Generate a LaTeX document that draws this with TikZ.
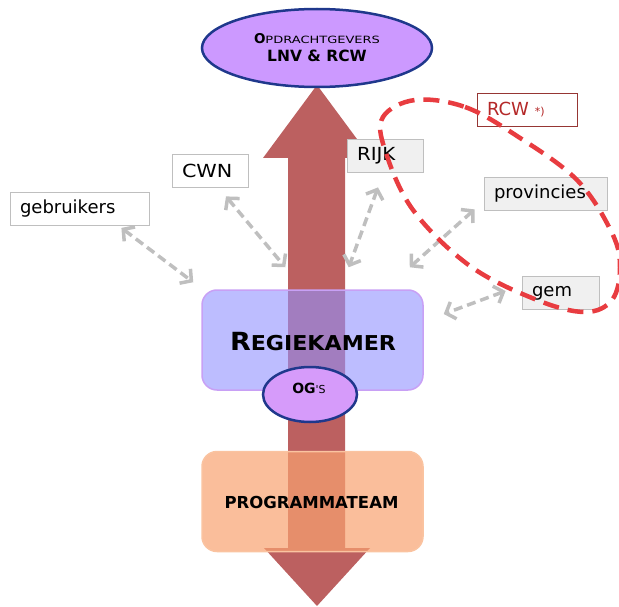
\documentclass[tikz,border=0pt]{standalone}
\usepackage{fontspec}
\setmainfont{DejaVu Sans}
\usetikzlibrary{arrows.meta,shapes.geometric,calc}
\definecolor{arrowred}{RGB}{188,96,96}
\definecolor{lav}{RGB}{204,153,255}
\definecolor{ogfill}{RGB}{214,155,250}
\definecolor{navy}{RGB}{31,56,140}
\definecolor{regfill}{RGB}{145,145,255}
\definecolor{regborder}{RGB}{200,160,245}
\definecolor{progfill}{RGB}{248,162,112}
\definecolor{progborder}{RGB}{250,195,160}
\definecolor{boxgray}{RGB}{191,191,191}
\definecolor{lightfill}{RGB}{240,240,240}
\definecolor{rcwred}{RGB}{180,40,40}
\definecolor{rcwborder}{RGB}{150,54,52}
\definecolor{loopred}{RGB}{232,60,64}
\begin{document}
\begin{tikzpicture}[x=1pt,y=-1pt,
  labelbox/.style={draw=boxgray,line width=0.8pt,fill=white,inner xsep=10pt,inner ysep=0pt,
    minimum height=33pt,align=left,font=\fontsize{18}{20}\selectfont},
  graybox/.style={labelbox,fill=lightfill},
  teambox/.style={rounded corners=15pt,line width=1.5pt,minimum width=221pt,minimum height=100pt,text opacity=1},
  ovalnode/.style={ellipse,draw=navy,line width=2.5pt,inner sep=0pt},
  link/.style={draw=boxgray,line width=3.5pt,dash pattern=on 9pt off 5pt,
    {Straight Barb[length=8pt,width=18pt,line width=3.5pt]}-{Straight Barb[length=8pt,width=18pt,line width=3.5pt]}},
  loop/.style={draw=loopred,line width=4.5pt,dash pattern=on 16pt off 9pt}
]
\useasboundingbox (0,0) rectangle (619,607);
% big double arrow
\fill[arrowred] (317,85) -- (263,158) -- (288,158) -- (288,548) -- (264,548) -- (317,606)
  -- (370,548) -- (345,548) -- (345,158) -- (371,158) -- cycle;
% team boxes
\node[teambox,draw=regborder,fill=regfill,fill opacity=0.6] (reg) at (312.5,340) {};
\node (regt) at (313,342) {\scalebox{1.08}[1]{\bfseries\fontsize{25}{25}\selectfont R\fontsize{20.5}{20.5}\selectfont EGIEKAMER}};
\node[teambox,draw=progborder,fill=progfill,fill opacity=0.7] (prog) at (312.5,501.5) {};
\node (progt) at (311.5,502) {\bfseries\fontsize{16.5}{16.5}\selectfont PROGRAMMATEAM};
% ovals
\node[ovalnode,fill=ogfill,minimum width=94pt,minimum height=55pt] (og) at (310,394.5) {};
\node (ogt) at (309,388) {{\bfseries\fontsize{14}{14}\selectfont OG}{\fontsize{11}{11}\selectfont\textquotesingle S}};
\node[ovalnode,fill=lav,minimum width=230pt,minimum height=78pt,align=center,font=\fontsize{15}{18}\selectfont] (opd) at (317,48)
  {{\bfseries\fontsize{13.5}{18}\selectfont O}\scalebox{1.3}[1]{\fontsize{10}{18}\selectfont PDRACHTGEVERS}\\
   {\bfseries\fontsize{15.5}{18}\selectfont LNV \& RCW}};
% label boxes
\node[labelbox,text width=119pt] (geb) at (79.5,209) {gebruikers};
\node[labelbox,text width=56pt] (cwn) at (210,170.5) {\scalebox{1.15}[1]{CWN}};
\node[graybox,text width=56pt] (rijk) at (385,155.5) {\scalebox{1.1}[1]{RIJK}};
\node[graybox,text width=103pt] (prov) at (545.5,193.5) {provincies};
\node[graybox,text width=57pt] (gem) at (560.5,293) {gem};
\node[labelbox,draw=rcwborder,text=rcwred,text width=80pt] (rcw) at (527,109.5) {RCW {\fontsize{11}{12}\selectfont *)}};
% connectors
\draw[link] ($(geb.south east)+(-28,2)$) -- ($(reg.north west)+(-8,-7)$);
\draw[link] ($(cwn.south)+(16,9)$) -- ($(reg.north west)+(84,-22)$);
\draw[link] ($(rijk.south)+(-7,15)$) -- ($(reg.north east)+(-75,-22)$);
\draw[link] ($(prov.south west)+(-9,-1)$) -- ($(reg.north east)+(-14,-22)$);
\draw[link] ($(gem.west)+(-16,-2)$) -- ($(reg.east)+(20,-26)$);
% red dashed loop
\draw[loop] plot[smooth cycle,tension=0.6] coordinates {(415,100) (465,107) (517,136) (577,180)
  (612,233) (620,268) (612,300) (585,312) (537,300) (470,266) (413,210) (385,150) (383,117)};
\end{tikzpicture}
\end{document}
